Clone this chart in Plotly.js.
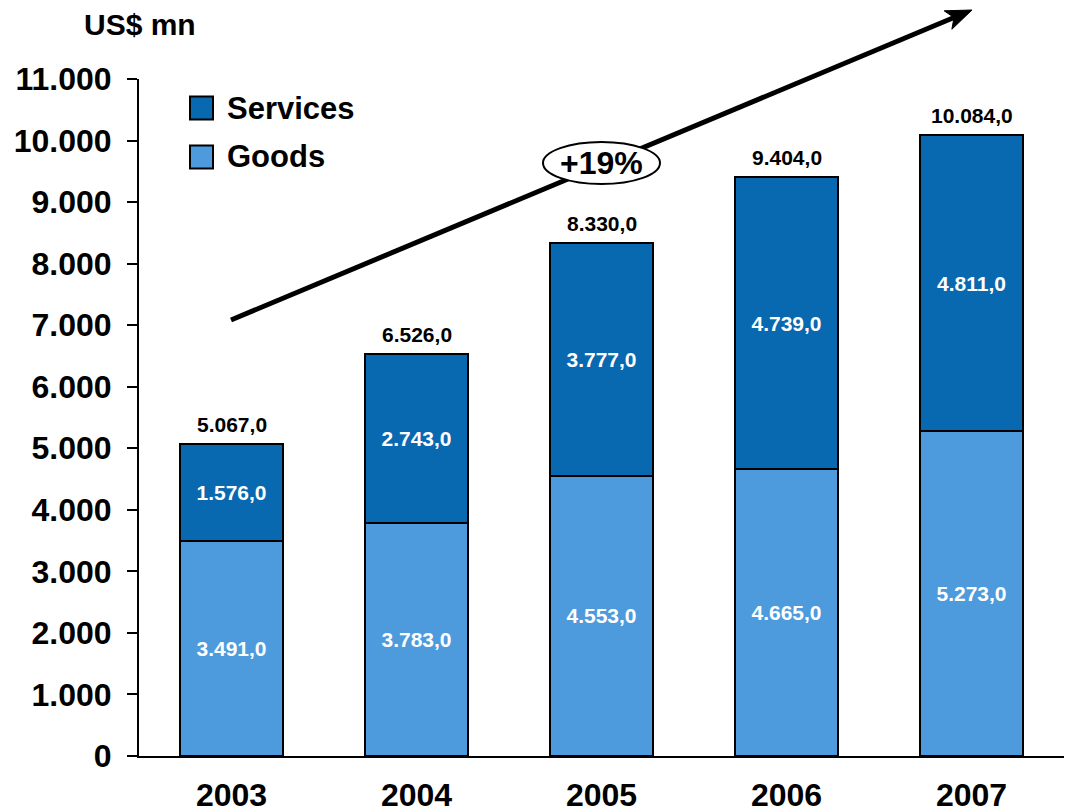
<!DOCTYPE html>
<html>
<head>
<meta charset="utf-8">
<script src="https://cdn.plot.ly/plotly-3.0.1.min.js"></script>
<style>html,body{margin:0;padding:0;background:#fff;}#chart{width:1068px;height:812px;}</style>
</head>
<body>
<div id="chart"></div>
<script>
const years = ['2003', '2004', '2005', '2006', '2007'];
const goods = [3491, 3783, 4553, 4665, 5273];
const services = [1576, 2743, 3777, 4739, 4811];
const totals = [5067, 6526, 8330, 9404, 10084];
const yTicks = [0, 1000, 2000, 3000, 4000, 5000, 6000, 7000, 8000, 9000, 10000, 11000];
const seriesNames = ['Services', 'Goods'];

const FONT = 'Liberation Sans, Arial, sans-serif';
const darkBlue = '#0868B0';
const lightBlue = '#4D9BDC';

const W = 1068, H = 812;
const M = {l: 139, r: 4, t: 79, b: 56};
const pw = W - M.l - M.r, ph = H - M.t - M.b;
const px = x => (x - M.l) / pw;
const py = y => (H - M.b - y) / ph;

function fmt(v) {
  const parts = v.toFixed(1).split('.');
  const intPart = parts[0].replace(/\B(?=(\d{3})+(?!\d))/g, '.');
  return intPart + ',' + parts[1];
}

// arrow geometry (pixels -> paper)
const tail = [231, 320], tip = [972, 10];
const dx = tip[0] - tail[0], dy = tip[1] - tail[1];
const len = Math.sqrt(dx * dx + dy * dy);
const ux = dx / len, uy = dy / len;
const nx = -uy, ny = ux;
const hl = 26, hw = 10;
const base = [tip[0] - hl * ux, tip[1] - hl * uy];
const notch = [tip[0] - hl * 0.75 * ux, tip[1] - hl * 0.75 * uy];
const p1 = [base[0] + hw * nx, base[1] + hw * ny];
const p2 = [base[0] - hw * nx, base[1] - hw * ny];
const headPath = 'M' + px(tip[0]) + ',' + py(tip[1]) + ' L' + px(p1[0]) + ',' + py(p1[1]) +
  ' L' + px(notch[0]) + ',' + py(notch[1]) + ' L' + px(p2[0]) + ',' + py(p2[1]) + ' Z';

const traces = [
  {
    type: 'bar', name: 'Goods', x: years, y: goods,
    marker: {color: lightBlue, line: {color: '#000', width: 2}},
    texttemplate: '%{y:,.1f}', textposition: 'inside', insidetextanchor: 'middle',
    textangle: 0, constraintext: 'none',
    textfont: {family: FONT, size: 21, color: '#fff', weight: 'bold'},
    hoverinfo: 'skip', showlegend: false
  },
  {
    type: 'bar', name: 'Services', x: years, y: services,
    marker: {color: darkBlue, line: {color: '#000', width: 2}},
    texttemplate: '%{y:,.1f}', textposition: 'inside', insidetextanchor: 'middle',
    textangle: 0, constraintext: 'none',
    textfont: {family: FONT, size: 21, color: '#fff', weight: 'bold'},
    hoverinfo: 'skip', showlegend: false
  }
];

const legendColors = [darkBlue, lightBlue];
const legendY = [108, 157];
const legendShapes = seriesNames.map((n, i) => ({
  type: 'rect', xref: 'paper', yref: 'paper', layer: 'above',
  x0: px(190), x1: px(213), y0: py(legendY[i] + 11.5), y1: py(legendY[i] - 11.5),
  fillcolor: legendColors[i], line: {color: '#000', width: 2}
}));
const legendTexts = seriesNames.map((n, i) => ({
  text: n, xref: 'paper', yref: 'paper', x: px(225), y: py(legendY[i]),
  xanchor: 'left', yanchor: 'middle', showarrow: false,
  font: {family: FONT, size: 31, color: '#000', weight: 'bold'}
}));

const totalAnnots = years.map((yr, i) => ({
  text: fmt(totals[i]), x: i, y: totals[i], xref: 'x', yref: 'y',
  xanchor: 'center', yanchor: 'bottom', yshift: 6, showarrow: false,
  font: {family: FONT, size: 21, color: '#000', weight: 'bold'}
}));

const layout = {
  width: W, height: H,
  margin: M,
  paper_bgcolor: '#fff', plot_bgcolor: '#fff',
  separators: ',.',
  barmode: 'stack',
  bargap: 0.44,
  font: {family: FONT, color: '#000'},
  showlegend: false,
  xaxis: {
    type: 'category', range: [-0.5, years.length - 0.5], autorange: false,
    showline: true, linecolor: '#000', linewidth: 2,
    ticks: '', showgrid: false, zeroline: false,
    tickfont: {family: FONT, size: 32, color: '#000', weight: 'bold'},
    ticklabelstandoff: 10
  },
  yaxis: {
    range: [0, 11000], autorange: false, tickvals: yTicks, tickformat: ',d',
    showline: true, linecolor: '#000', linewidth: 2,
    ticks: 'outside', ticklen: 10, tickwidth: 2, tickcolor: '#000',
    showgrid: false, zeroline: false,
    tickfont: {family: FONT, size: 32, color: '#000', weight: 'bold'},
    ticklabelstandoff: 9
  },
  shapes: [
    {type: 'line', xref: 'paper', yref: 'paper', layer: 'above',
      x0: px(tail[0]), y0: py(tail[1]), x1: px(notch[0]), y1: py(notch[1]),
      line: {color: '#000', width: 5}},
    {type: 'path', xref: 'paper', yref: 'paper', layer: 'above', path: headPath,
      fillcolor: '#000', line: {color: '#000', width: 1}},
    {type: 'circle', xref: 'paper', yref: 'paper', layer: 'above',
      x0: px(543), x1: px(660), y0: py(184), y1: py(142),
      fillcolor: '#fff', line: {color: '#000', width: 2}}
  ].concat(legendShapes),
  annotations: [
    {text: 'US$ mn', xref: 'paper', yref: 'paper', x: px(140), y: py(24),
      xanchor: 'center', yanchor: 'middle', showarrow: false,
      font: {family: FONT, size: 30, color: '#000', weight: 'bold'}},
    {text: '+19%', xref: 'paper', yref: 'paper', x: px(601), y: py(163),
      xanchor: 'center', yanchor: 'middle', showarrow: false,
      font: {family: FONT, size: 32, color: '#000', weight: 'bold'}}
  ].concat(legendTexts, totalAnnots)
};

Plotly.newPlot('chart', traces, layout, {displayModeBar: false, staticPlot: true});
</script>
</body>
</html>
